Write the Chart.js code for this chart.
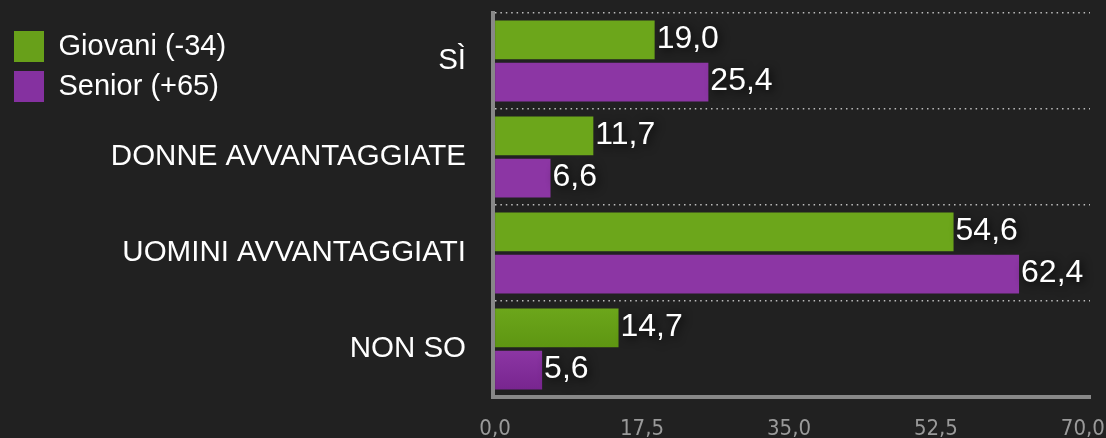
<!DOCTYPE html>
<html>
<head>
<meta charset="utf-8">
<script src="https://cdn.jsdelivr.net/npm/chart.js@4/dist/chart.umd.min.js"></script>
<style>
  html, body { margin: 0; padding: 0; background: #212121; }
  #wrap { width: 1106px; height: 438px; position: relative; background: #212121; }
</style>
</head>
<body>
<div id="wrap"><canvas id="c"></canvas></div>
<script>
const categories = ['SÌ', 'DONNE AVVANTAGGIATE', 'UOMINI AVVANTAGGIATI', 'NON SO'];
const seriesNames = ['Giovani (-34)', 'Senior (+65)'];
const giovani = [19.0, 11.7, 54.6, 14.7];
const senior = [25.4, 6.6, 62.4, 5.6];
const xTicks = [0, 17.5, 35, 52.5, 70];

const fmt = v => v.toFixed(1).replace('.', ',');
const SANS = '"Liberation Sans", Arial, sans-serif';
const NARROW = '"Liberation Sans Narrow", "Arial Narrow", "DejaVu Sans Condensed", sans-serif';

const gradStops = [
  ['#6ca61b', '#5e9612'],
  ['#8c36a4', '#78258f']
];

const barGradientPlugin = {
  id: 'barGradient',
  beforeDatasetsDraw(chart) {
    const ctx = chart.ctx;
    chart.data.datasets.forEach((ds, di) => {
      const meta = chart.getDatasetMeta(di);
      meta.data.forEach(el => {
        const top = el.y - el.height / 2;
        const bottom = el.y + el.height / 2;
        const g = ctx.createLinearGradient(0, top, 0, bottom);
        g.addColorStop(0, gradStops[di][0]);
        g.addColorStop(1, gradStops[di][1]);
        el.options.backgroundColor = g;
      });
    });
  }
};

const valueLabelPlugin = {
  id: 'valueLabels',
  afterDatasetsDraw(chart) {
    const ctx = chart.ctx;
    ctx.save();
    ctx.font = '32px ' + SANS;
    ctx.fillStyle = '#ffffff';
    ctx.textAlign = 'left';
    ctx.textBaseline = 'middle';
    ctx.shadowColor = 'rgba(0,0,0,0.9)';
    ctx.shadowBlur = 10;
    ctx.shadowOffsetX = 2;
    ctx.shadowOffsetY = 2;
    chart.data.datasets.forEach((ds, di) => {
      const meta = chart.getDatasetMeta(di);
      meta.data.forEach((el, i) => {
        ctx.fillText(fmt(ds.data[i]), el.x + 2, el.y - 1);
      });
    });
    ctx.restore();
  }
};

new Chart(document.getElementById('c'), {
  type: 'bar',
  data: {
    labels: categories,
    datasets: [
      { label: seriesNames[0], data: giovani, backgroundColor: '#68a01a', borderWidth: 0 },
      { label: seriesNames[1], data: senior, backgroundColor: '#8531a0', borderWidth: 0 }
    ]
  },
  options: {
    indexAxis: 'y',
    responsive: true,
    maintainAspectRatio: false,
    animation: false,
    categoryPercentage: 0.88,
    barPercentage: 0.92,
    layout: { padding: { left: 5, top: 13, right: 16, bottom: 0 } },
    plugins: {
      tooltip: { enabled: false },
      legend: {
        position: 'left',
        align: 'start',
        title: { display: true, text: '', font: { size: 5 }, padding: { top: 1.5, bottom: 1.5 } },
        labels: {
          color: '#ffffff',
          font: { family: SANS, size: 29 },
          boxWidth: 30,
          boxHeight: 31,
          padding: 9
        }
      }
    },
    scales: {
      x: {
        min: -0.25,
        max: 70.85,
        z: 1,
        afterBuildTicks: s => { s.ticks = xTicks.map(v => ({ value: v })); },
        afterFit: s => { s.height = 41; s.paddingLeft = 0; s.paddingRight = 0; },
        grid: { display: false, drawTicks: false },
        border: { display: true, color: '#888888', width: 4 },
        ticks: {
          color: '#9a9a9a',
          font: { family: NARROW, size: 22 },
          padding: 19,
          maxRotation: 0,
          autoSkip: false,
          callback: v => fmt(v)
        }
      },
      y: {
        z: 1,
        afterFit: s => {
          s.width = 493 - 5 - s.chart.legend.width;
          s.paddingTop = 0;
          s.paddingBottom = 0;
          s._computeLabelArea = () => undefined;
        },
        grid: { display: true, offset: true, color: '#bdbdbd', lineWidth: 1.5, drawTicks: false, tickLength: 0 },
        border: { display: true, color: '#888888', width: 4, dash: [1.5, 3.9] },
        ticks: {
          color: '#ffffff',
          font: { family: SANS, size: 29.5 },
          padding: 27,
          autoSkip: false
        }
      }
    }
  },
  plugins: [barGradientPlugin, valueLabelPlugin]
});
</script>
</body>
</html>
